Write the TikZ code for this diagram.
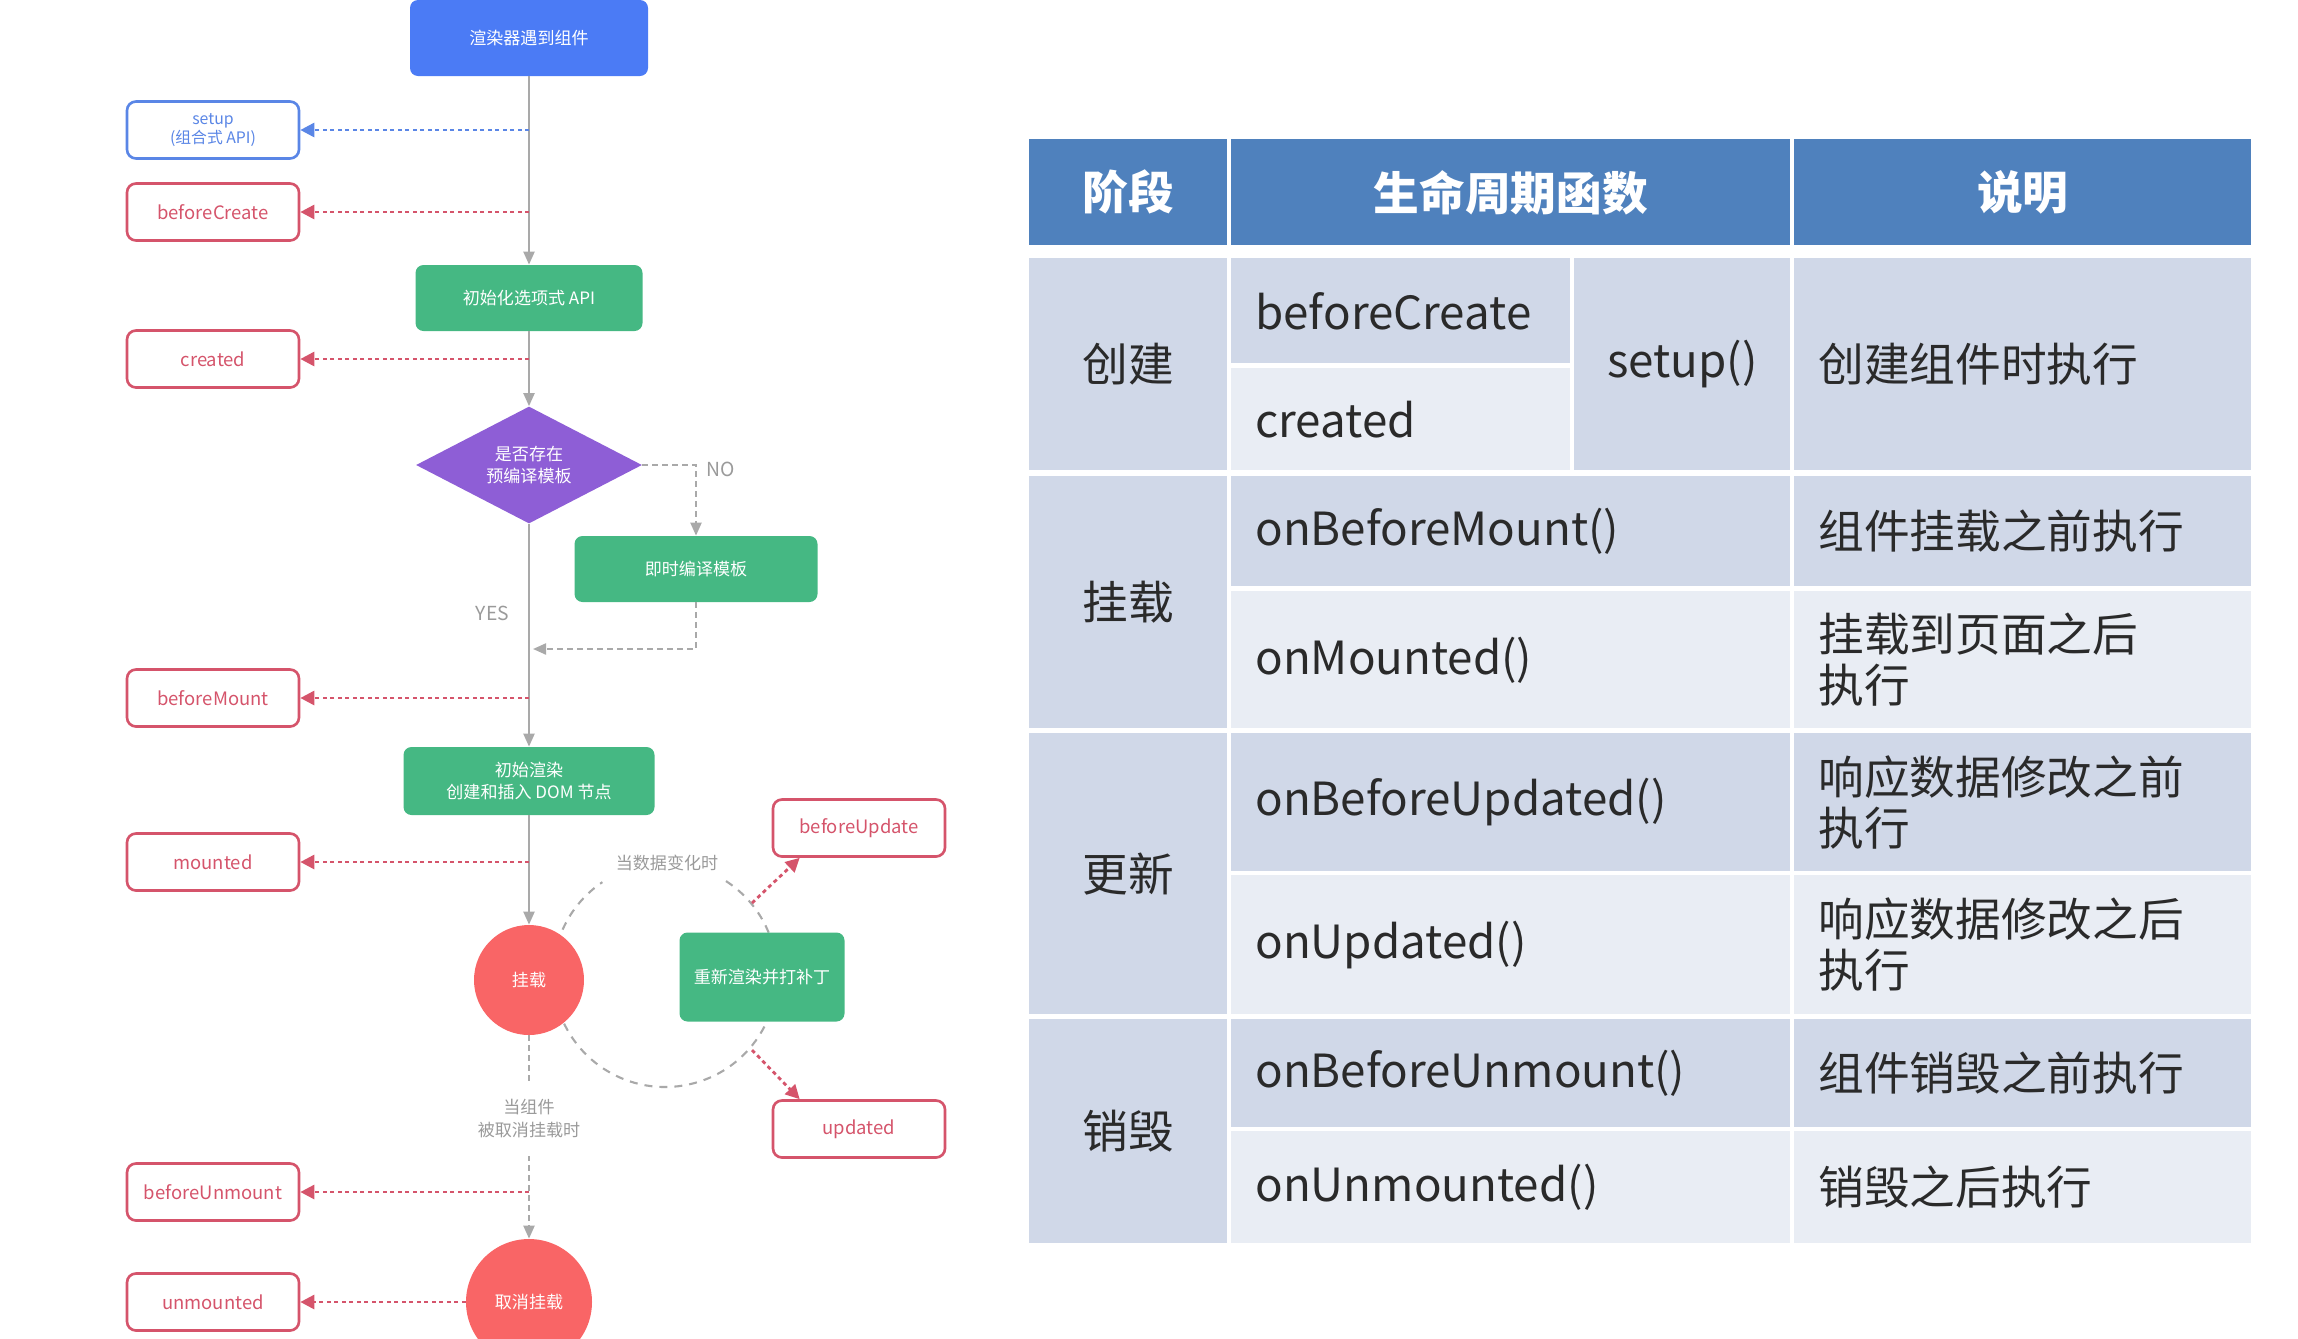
\documentclass[tikz,border=0pt]{standalone}
\usepackage{fontspec}
\setmainfont{Noto Sans CJK SC}
\usetikzlibrary{arrows.meta,shapes.geometric,calc}

\definecolor{rendblue}{HTML}{4B7BF5}
\definecolor{vuegreen}{HTML}{45B883}
\definecolor{tplpurple}{HTML}{8E5ED6}
\definecolor{mountred}{HTML}{F96566}
\definecolor{hookred}{HTML}{D5546B}
\definecolor{setupblue}{HTML}{5A86E6}
\definecolor{flowgray}{HTML}{A9A9A9}
\definecolor{notegray}{HTML}{9A9A9A}
\definecolor{headblue}{HTML}{4F81BD}
\definecolor{celldark}{HTML}{D0D8E8}
\definecolor{celllight}{HTML}{E9EDF4}
\definecolor{tabink}{HTML}{2A2A2A}

\begin{document}
\begin{tikzpicture}[x=0.2mm,y=-0.2mm]
\tikzset{
  flowbox/.style={rectangle,rounded corners=1.6mm,text=white,align=center,inner sep=0pt,font=\fontsize{9.7}{13}\selectfont},
  hookbox/.style={rectangle,draw=hookred,line width=1.5pt,rounded corners=1.8mm,fill=white,minimum width=34.4mm,minimum height=11.4mm,inner sep=0pt,align=center,text=hookred,font=\fontsize{10.5}{13}\selectfont},
  stagecircle/.style={circle,fill=mountred,text=white,inner sep=0pt,font=\fontsize{9.7}{13}\selectfont},
  flow/.style={draw=flowgray,line width=1.2pt,-{Triangle[length=2.6mm,width=2.2mm]}},
  branch/.style={flow,dash pattern=on 1.1mm off 0.9mm},
  ring/.style={draw=flowgray,line width=1.2pt,dash pattern=on 1.6mm off 1.4mm},
  hooklink/.style={draw=hookred,line width=1.6pt,dash pattern=on 0.8mm off 0.7mm,-{Triangle[length=2.8mm,width=2.8mm]}},
  note/.style={text=notegray,font=\fontsize{9.7}{13}\selectfont,align=center},
  tcell/.style={rectangle,anchor=north west,inner xsep=4.8mm,inner ysep=0pt,align=left,text=tabink,font=\fontsize{26}{29}\selectfont},
  thead/.style={tcell,fill=headblue,text=white,align=center,font=\fontsize{26}{29}\selectfont\bfseries}
}
\useasboundingbox (0,0) rectangle (2298,1338);

% update loop behind the nodes
\coordinate (c_ring) at (665,975);
\draw[ring] ($(c_ring)+(-57:112)$) arc[start angle=-57,end angle=236,radius=112];

% flow chart
\node[flowbox,fill=rendblue,minimum width=47.6mm,minimum height=15.2mm] (n_render) at (529,38) {渲染器遇到组件};
\node[flowbox,fill=vuegreen,minimum width=45.4mm,minimum height=13.2mm] (n_optapi) at (529,298) {初始化选项式 API};
\node[diamond,aspect=2,fill=tplpurple,text=white,minimum width=45.2mm,minimum height=23.4mm,inner sep=0pt,align=center,font=\fontsize{9.7}{12}\selectfont] (d_tpl) at (529,465) {是否存在\\预编译模板};
\node[flowbox,fill=vuegreen,minimum width=48.6mm,minimum height=13.2mm] (n_jit) at (696,569) {即时编译模板};
\node[flowbox,fill=vuegreen,minimum width=50.2mm,minimum height=13.6mm] (n_initrender) at (529,781) {初始渲染\\创建和插入 DOM 节点};
\node[stagecircle,minimum size=22mm] (n_mount) at (529,980) {挂载};
\node[flowbox,fill=vuegreen,minimum width=33mm,minimum height=17.8mm] (n_patch) at (762,977) {重新渲染并打补丁};
\node[stagecircle,minimum size=25.2mm] (n_unmount) at (529,1302) {取消挂载};
\node[note] (l_datachange) at (667,863) {当数据变化时};

% hooks
\node[hookbox,draw=setupblue,text=setupblue,font=\fontsize{9}{10.5}\selectfont] (b_setup) at (213,130) {setup\\(组合式 API)};
\node[hookbox] (b_beforecreate) at (213,212) {beforeCreate};
\node[hookbox] (b_created) at (213,359) {created};
\node[hookbox] (b_beforemount) at (213,698) {beforeMount};
\node[hookbox] (b_mounted) at (213,862) {mounted};
\node[hookbox] (b_beforeupdate) at (859,828) {beforeUpdate};
\node[hookbox] (b_updated) at (859,1129) {updated};
\node[hookbox] (b_beforeunmount) at (213,1192) {beforeUnmount};
\node[hookbox] (b_unmounted) at (213,1302) {unmounted};

\draw[flow] (n_render) -- (n_optapi);
\draw[flow] (n_optapi) -- (d_tpl);
\draw[flow] (d_tpl) -- node[note,pos=0.4,left=2.6mm,font=\fontsize{11}{13}\selectfont]{YES} (n_initrender);
\draw[flow] (n_initrender) -- (n_mount);
\draw[branch] (d_tpl.east) -| node[note,pos=0.5,anchor=west,xshift=0.7mm,yshift=-0.8mm,font=\fontsize{11}{13}\selectfont]{NO} (n_jit.north);
\coordinate (c_join) at (533,649);
\draw[branch] (n_jit.south) |- (c_join);
\draw[branch] (n_mount) -- node[note,pos=0.41,fill=white,inner ysep=3.6mm]{当组件\\被取消挂载时} (n_unmount);

\coordinate (c_setup) at (529,130);
\coordinate (c_beforecreate) at (529,212);
\coordinate (c_created) at (529,359);
\coordinate (c_beforemount) at (529,698);
\coordinate (c_mounted) at (529,862);
\coordinate (c_beforeunmount) at (529,1192);
\coordinate (c_beforeupdate) at (752,903);
\coordinate (c_updated) at (752,1050);
\draw[hooklink,draw=setupblue] (c_setup) -- (b_setup);
\draw[hooklink] (c_beforecreate) -- (b_beforecreate);
\draw[hooklink] (c_created) -- (b_created);
\draw[hooklink] (c_beforemount) -- (b_beforemount);
\draw[hooklink] (c_mounted) -- (b_mounted);
\draw[hooklink] (c_beforeunmount) -- (b_beforeunmount);
\draw[hooklink] (n_unmount) -- (b_unmounted);
\draw[hooklink] (c_beforeupdate) -- ($(b_beforeupdate.south west)+(28,0)$);
\draw[hooklink] (c_updated) -- ($(b_updated.north west)+(28,0)$);

% table
\node[thead,text width=30.0mm,minimum height=21.2mm] (h_stage) at (1029,139) {阶段};
\node[thead,text width=102.2mm,minimum height=21.2mm] (h_hook) at (1231,139) {生命周期函数};
\node[thead,text width=81.8mm,minimum height=21.2mm] (h_desc) at (1794,139) {说明};

\node[tcell,fill=celldark,align=center,text width=30.0mm,minimum height=42.4mm] (s_create) at (1029,258) {创建};
\node[tcell,fill=celldark,text width=58.2mm,minimum height=21.0mm] (f_beforecreate) at (1231,258) {beforeCreate};
\node[tcell,fill=celllight,text width=58.2mm,minimum height=20.4mm] (f_created) at (1231,368) {created};
\node[tcell,fill=celldark,align=center,text width=33.6mm,minimum height=42.4mm] (f_setup) at (1574,258) {setup()};
\node[tcell,fill=celldark,text width=81.8mm,minimum height=42.4mm] (desc_create) at (1794,258) {创建组件时执行};

\node[tcell,fill=celldark,align=center,text width=30.0mm,minimum height=50.4mm] (s_mount) at (1029,476) {挂载};
\node[tcell,fill=celldark,text width=102.2mm,minimum height=22.0mm] (f_beforemount) at (1231,476) {onBeforeMount()};
\node[tcell,fill=celllight,text width=102.2mm,minimum height=27.4mm] (f_mounted) at (1231,591) {onMounted()};
\node[tcell,fill=celldark,text width=81.8mm,minimum height=22.0mm] (desc_beforemount) at (1794,476) {组件挂载之前执行};
\node[tcell,fill=celllight,text width=81.8mm,minimum height=27.4mm] (desc_mounted) at (1794,591) {挂载到页面之后\\执行};

\node[tcell,fill=celldark,align=center,text width=30.0mm,minimum height=56.2mm] (s_update) at (1029,733) {更新};
\node[tcell,fill=celldark,text width=102.2mm,minimum height=27.6mm] (f_beforeupdate) at (1231,733) {onBeforeUpdated()};
\node[tcell,fill=celllight,text width=102.2mm,minimum height=27.8mm] (f_updated) at (1231,875) {onUpdated()};
\node[tcell,fill=celldark,text width=81.8mm,minimum height=27.6mm] (desc_beforeupdate) at (1794,733) {响应数据修改之前\\执行};
\node[tcell,fill=celllight,text width=81.8mm,minimum height=27.8mm] (desc_updated) at (1794,875) {响应数据修改之后\\执行};

\node[tcell,fill=celldark,align=center,text width=30.0mm,minimum height=44.8mm] (s_unmount) at (1029,1019) {销毁};
\node[tcell,fill=celldark,text width=102.2mm,minimum height=21.6mm] (f_beforeunmount) at (1231,1019) {onBeforeUnmount()};
\node[tcell,fill=celllight,text width=102.2mm,minimum height=22.4mm] (f_unmounted) at (1231,1131) {onUnmounted()};
\node[tcell,fill=celldark,text width=81.8mm,minimum height=21.6mm] (desc_beforeunmount) at (1794,1019) {组件销毁之前执行};
\node[tcell,fill=celllight,text width=81.8mm,minimum height=22.4mm] (desc_unmounted) at (1794,1131) {销毁之后执行};
\end{tikzpicture}
\end{document}
